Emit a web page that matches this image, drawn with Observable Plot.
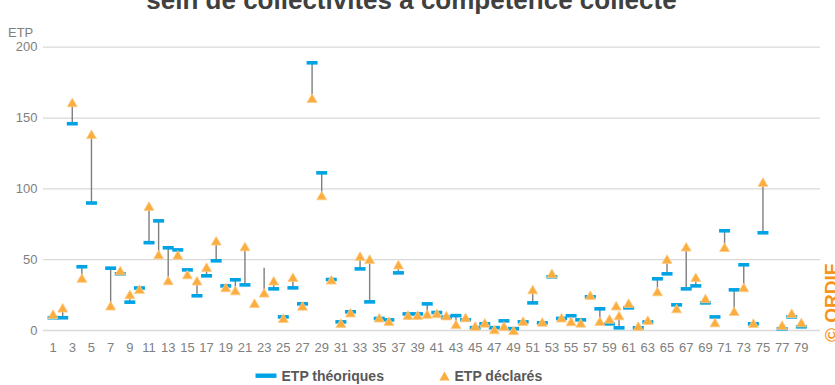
<!DOCTYPE html>
<html>
<head>
<meta charset="utf-8">
<script src="https://cdn.jsdelivr.net/npm/d3@7"></script>
<script src="https://cdn.jsdelivr.net/npm/@observablehq/plot@0.6"></script>
<style>
  body { margin: 0; background: #fff; }
  #chart { position: relative; width: 835px; height: 385px; overflow: hidden;
           font-family: "Liberation Sans", Arial, sans-serif; }
  #chart svg { position: absolute; left: 0; top: 0; }
  .title { position: absolute; left: -6px; top: -13px; width: 835px; text-align: center;
           font-weight: bold; font-size: 26px; line-height: 1; color: #404040; white-space: nowrap; }
  .ylab { position: absolute; left: 8px; top: 26px; font-size: 13px; line-height: 1; color: #808080; }
  .legend { position: absolute; top: 369px; left: 0; font-weight: bold; font-size: 14px;
            line-height: 1; color: #595959; white-space: nowrap; }
  .legend span { position: absolute; top: 0; }
  .credit { position: absolute; left: 822px; top: 342px; transform-origin: 0 0; transform: rotate(-90deg);
            font-weight: bold; font-size: 19px; line-height: 1; color: #F7941D; white-space: nowrap; }
</style>
</head>
<body>
<div id="chart">
  <div class="title">sein de collectivités à compétence collecte</div>
  <div class="ylab">ETP</div>
  <div class="legend" id="legend"></div>
  <div class="credit">© ORDIF</div>
</div>
<script>
// Collectivités numérotées 1 à 79
const categories = d3.range(1, 80);

// ETP théoriques (null : pas de valeur)
const theoriques = [
  9, 9, 146, 45, 90, null, 44, 40, 20, 30,
  62, 77.4, 58.4, 56.9, 42.8, 24.5, 38.6, 49.2, 31.5, 35.8,
  32.2, null, 44, 29.4, 9.6, 30.1, 18.8, 189, 111.3, 36,
  6.1, 13.2, 43.5, 20.2, 8.5, 7.5, 40.7, 11.7, 11.7, 18.8,
  12.7, 9.4, 10.5, 7.5, 2, 4.7, 2, 6.8, 1.3, 6.1,
  19.5, 5.4, 37.9, 8.5, 10.4, 7.5, 23.8, 15.3, 4.7, 1.9,
  16, 1.9, 6, 36.5, 40, 18.1, 29.4, 31.5, 19.5, 9.6,
  70.4, 28.7, 46.4, 4.7, 69, null, 1.2, 9.6, 2.6
];

// ETP déclarés
const declares = [
  11.5, 16, 161, 37, 138.5, null, 17.5, 42.3, 25.4, 29.2,
  87.8, 53.6, 35.3, 53.4, 39.5, 35.1, 44.7, 63.3, 30.4, 28.2,
  59.3, 19.3, 26.6, 35.1, 8.7, 37.6, 17.3, 164, 95.3, 35.8,
  5.2, 12.6, 52.5, 50.4, 9, 6.5, 46.5, 10.8, 10.8, 11.6,
  12.1, 10.5, 4.4, 9.2, 3.1, 5.4, 0.7, 3.1, 0.1, 6.6,
  28.9, 6, 40.3, 9, 6.4, 5.4, 24.9, 6.6, 8.2, 10.6,
  19.3, 3.1, 7.3, 27.5, 50.4, 15.5, 59.1, 37.6, 22.6, 5.6,
  58.8, 13.6, 30.4, 5.2, 104.7, null, 3.8, 12.2, 5.6
];

// Point déclaré supplémentaire, décalé entre deux collectivités
const declaresDecales = [{c: 59.7, v: 17.5}];

// Collectivités dont le repère théorique n'est pas affiché
const sansRepere = [23];

// Graduations
const yTicks = [0, 50, 100, 150, 200];
const xTicks = d3.range(1, 80, 2);

const BLUE = "#00A3E4";
const ORANGE = "#FBAD3F";

const rows = categories.map((c, i) => ({c, t: theoriques[i], d: declares[i]}));
const ecarts = rows.filter(r => r.t != null && r.d != null)
  .map(r => ({c: r.c, lo: Math.min(r.t, r.d), hi: Math.max(r.t, r.d)}));
const reperesTheo = rows.filter(r => r.t != null && !sansRepere.includes(r.c));

// Repère horizontal des ETP théoriques
const dash = { draw(ctx) { ctx.rect(-5.5, -1.8, 11, 3.6); } };

const plot = Plot.plot({
  width: 835,
  height: 385,
  marginTop: 46.7,
  marginBottom: 55,
  marginLeft: 43,
  marginRight: 15,
  style: { fontFamily: "Liberation Sans, Arial, sans-serif", fontSize: "13px", color: "#808080", background: "transparent" },
  x: { type: "linear", domain: [0, 81] },
  y: { domain: [0, 200] },
  marks: [
    Plot.gridY(yTicks, { stroke: "#d9d9d9", strokeOpacity: 1, strokeWidth: 1.3 }),
    Plot.axisY(yTicks, { tickSize: 0, tickPadding: 6, label: null, fill: "#808080" }),
    Plot.axisX(xTicks, { tickSize: 0, tickPadding: 12, label: null, fill: "#808080" }),
    Plot.ruleX(ecarts, { x: "c", y1: "lo", y2: "hi", stroke: "#7f7f7f", strokeWidth: 1.4 }),
    Plot.dot(reperesTheo, { x: "c", y: "t", symbol: dash, fill: BLUE, stroke: "none", r: 3 }),
    Plot.dot(rows.filter(r => r.d != null), { x: "c", y: "d", symbol: "triangle", r: 3.7, dy: 1.4,
      fill: ORANGE, stroke: "#FDCB85", strokeWidth: 0.8 }),
    Plot.dot(declaresDecales, { x: "c", y: "v", symbol: "triangle", r: 3.7, dy: 1.4,
      fill: ORANGE, stroke: "#FDCB85", strokeWidth: 0.8 })
  ]
});
document.getElementById("chart").appendChild(plot);

// Légende
const legend = document.getElementById("legend");
legend.innerHTML = `
  <svg width="835" height="20" style="position:absolute;left:0;top:0;overflow:visible">
    <rect x="255.5" y="4.5" width="21" height="4.4" fill="${BLUE}"></rect>
    <path d="${d3.symbol(d3.symbolTriangle, 45)()}" transform="translate(444.5,8.5)" fill="${ORANGE}"></path>
  </svg>
  <span style="left:281.5px">ETP théoriques</span>
  <span style="left:454.5px">ETP déclarés</span>`;
</script>
</body>
</html>
